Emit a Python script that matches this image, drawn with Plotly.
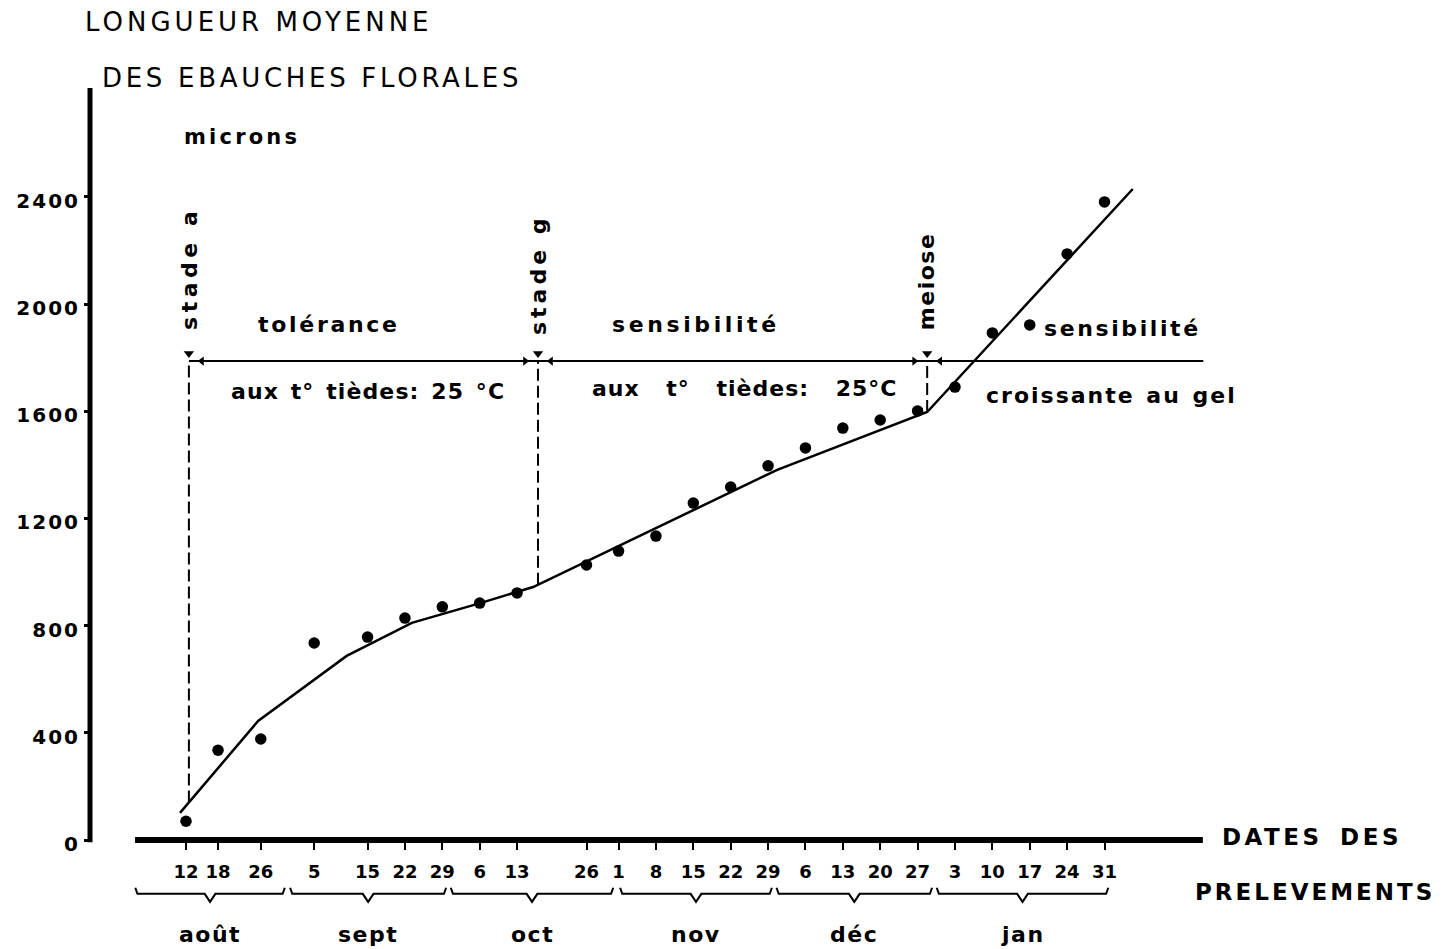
import numpy as np
import pandas as pd
import plotly.graph_objects as go

# ---- data -------------------------------------------------------------
sample_dates = [
    "1966-08-12", "1966-08-18", "1966-08-26",
    "1966-09-05", "1966-09-15", "1966-09-22", "1966-09-29",
    "1966-10-06", "1966-10-13", "1966-10-26",
    "1966-11-01", "1966-11-08", "1966-11-15", "1966-11-22", "1966-11-29",
    "1966-12-06", "1966-12-13", "1966-12-20", "1966-12-27",
    "1967-01-03", "1967-01-10", "1967-01-17", "1967-01-24", "1967-01-31",
]
tick_labels = ["12", "18", "26", "5", "15", "22", "29", "6", "13", "26",
               "1", "8", "15", "22", "29", "6", "13", "20", "27",
               "3", "10", "17", "24", "31"]
mean_length = [70, 335, 377, 735, 757, 828, 870, 884, 922, 1026,
               1078, 1134, 1257, 1317, 1396, 1463, 1537, 1567, 1601,
               1690, 1892, 1922, 2187, 2381]

# broken-line growth curve
curve_dates = ["1966-08-10 21:00", "1966-08-25 12:00", "1966-09-11 02:00",
               "1966-09-23 07:00", "1966-10-06 02:00", "1966-10-16 00:00",
               "1966-11-30 17:00", "1966-12-28 19:00", "1967-02-05 07:00"]
curve_values = [101, 444, 687, 810, 884, 944, 1381, 1597, 2429]

# developmental stages
stage_names = ["stade a", "stade g", "meiose"]
stage_dates = ["1966-08-12 13:00", "1966-10-16 22:00", "1966-12-28 19:00"]
period_line_value = 1787
period_line_end = "1967-02-18 12:00"

# months under the date axis
month_labels = ["août", "sept", "oct", "nov", "déc", "jan"]
month_start = ["1966-08-02 12:00", "1966-08-31 12:00", "1966-09-30 14:00",
               "1966-11-01 07:00", "1966-11-30 14:00", "1966-12-30 14:00"]
month_end = ["1966-08-30 12:00", "1966-09-29 17:00", "1966-10-31 00:00",
             "1966-11-29 17:00", "1966-12-29 17:00", "1967-01-31 17:00"]

y_ticks = [0, 400, 800, 1200, 1600, 2000, 2400]
y_tick_labels = ["0", "400", "800", "1200", "1600", "2000", "2400"]

# ---- layout helpers ---------------------------------------------------
W, H = 1443, 949
X_RANGE = ["1966-07-08 04:00", "1967-04-04 09:20"]
Y_RANGE = [-406.7, 3134.3]
X_AXIS_START, X_AXIS_END = "1966-08-02 11:00", "1967-02-18 10:00"
Y_AXIS_POS = 90 / W
Y_AXIS_TOP = 2806
FONT = "DejaVu Sans"


def px(xp):
    return xp / W


def py(yp):
    return 1 - yp / H


def spaced(text, ls, ws=None):
    style = f"letter-spacing:{ls}px"
    if ws is not None:
        style += f";word-spacing:{ws}px"
    return f'<span style="{style}">{text}</span>'


def ts(values):
    return pd.to_datetime(pd.Series(values))


def as_num(values):
    return ts(values).astype("int64").to_numpy().astype(float)


BLACK = "black"


def bold(size):
    return dict(family=FONT, size=size, color=BLACK, weight="bold")


fig = go.Figure()

# growth curve
fig.add_trace(go.Scatter(
    x=curve_dates, y=curve_values, mode="lines",
    line=dict(color=BLACK, width=2.5), hoverinfo="skip", showlegend=False,
))

# mean length of the floral primordia
fig.add_trace(go.Scatter(
    x=sample_dates, y=mean_length, mode="markers",
    marker=dict(color=BLACK, size=11.5), showlegend=False,
))

shapes = []
# axes lines
shapes.append(dict(type="line", xref="x", yref="y", x0=X_AXIS_START, x1=X_AXIS_END,
                   y0=0, y1=0, line=dict(color=BLACK, width=6)))
shapes.append(dict(type="line", xref="paper", yref="y", x0=Y_AXIS_POS, x1=Y_AXIS_POS,
                   y0=-8, y1=Y_AXIS_TOP, line=dict(color=BLACK, width=5)))

# horizontal line separating the periods
shapes.append(dict(type="line", xref="x", yref="y", x0=stage_dates[0], x1=period_line_end,
                   y0=period_line_value, y1=period_line_value,
                   line=dict(color=BLACK, width=2)))

# dashed stage markers, from the period line down to the curve
stage_on_curve = np.interp(as_num(stage_dates), as_num(curve_dates), curve_values)
for d, v in zip(stage_dates, stage_on_curve):
    shapes.append(dict(type="line", xref="x", yref="y", x0=d, x1=d,
                       y0=v, y1=period_line_value,
                       line=dict(color=BLACK, width=2, dash="12px,5px")))

# downward arrows on top of the stage markers
fig.add_trace(go.Scatter(
    x=stage_dates, y=[period_line_value + 28] * len(stage_dates), mode="markers",
    marker=dict(symbol="triangle-down", size=9, color=BLACK),
    hoverinfo="skip", showlegend=False,
))

# arrow heads bounding each period
stage_ts = ts(stage_dates)
off = pd.Timedelta(days=2.4)
left_heads = [stage_ts[0] + off, stage_ts[1] + off, stage_ts[2] + off]
right_heads = [stage_ts[1] - off, stage_ts[2] - off]
fig.add_trace(go.Scatter(
    x=left_heads, y=[period_line_value] * len(left_heads), mode="markers",
    marker=dict(symbol="triangle-left", size=8, color=BLACK),
    hoverinfo="skip", showlegend=False,
))
fig.add_trace(go.Scatter(
    x=right_heads, y=[period_line_value] * len(right_heads), mode="markers",
    marker=dict(symbol="triangle-right", size=8, color=BLACK),
    hoverinfo="skip", showlegend=False,
))

# month braces
Y_HOOK, Y_BRACE, Y_NOTCH, Y_MONTH = -178, -201, -231, -354
day = pd.Timedelta(days=1)
month_mid = []
for s, e in zip(ts(month_start), ts(month_end)):
    mid = s + (e - s) / 2
    month_mid.append(mid)
    xs = [s, s + 0.4 * day, mid - day, mid, mid + day, e - 0.4 * day, e]
    ys = [Y_HOOK, Y_BRACE, Y_BRACE, Y_NOTCH, Y_BRACE, Y_BRACE, Y_HOOK]
    fig.add_trace(go.Scatter(
        x=xs, y=ys, mode="lines", line=dict(color=BLACK, width=2),
        hoverinfo="skip", showlegend=False, cliponaxis=False,
    ))

annotations = []
for lab, mid in zip(month_labels, month_mid):
    annotations.append(dict(x=mid, y=Y_MONTH, xref="x", yref="y", text=spaced(lab, 1.5),
                            showarrow=False, font=bold(22), xanchor="center", yanchor="middle"))

# stage names, written vertically
stage_label_y = [268, 275, 281]
stage_label_ls = [4.5, 4, 1.5]
for name, d, yp, ls in zip(stage_names, stage_dates, stage_label_y, stage_label_ls):
    annotations.append(dict(x=d, y=py(yp), xref="x", yref="paper", text=spaced(name, ls),
                            textangle=-90, showarrow=False, font=bold(22),
                            xanchor="center", yanchor="middle"))

# period descriptions
texts = [
    ("tolérance", 329, 324, 2.7, None),
    ("sensibilité", 696, 324, 3.6, None),
    ("sensibilité", 1122, 328, 2.6, None),
    ("aux t° tièdes: 25 °C", 368, 391, 1.1, 3),
    ("aux t° tièdes: 25°C", 745, 388, 1, 18),
    ("croissante au gel", 1111, 395, 2, 2),
]
for t, xp, yp, ls, ws in texts:
    annotations.append(dict(x=px(xp), y=py(yp), xref="paper", yref="paper",
                            text=spaced(t, ls, ws), showarrow=False, font=bold(22),
                            xanchor="center", yanchor="middle"))

# axis titles
annotations += [
    dict(x=px(83), y=py(22), text=spaced("LONGUEUR MOYENNE", 4),
         font=dict(family=FONT, size=26, color=BLACK), xanchor="left"),
    dict(x=px(100), y=py(78), text=spaced("DES EBAUCHES FLORALES", 3.7),
         font=dict(family=FONT, size=26, color=BLACK), xanchor="left"),
    dict(x=px(182), y=py(137), text=spaced("microns", 3.2), font=bold(21), xanchor="left"),
    dict(x=px(1220), y=py(837), text=spaced("DATES DES", 3.5, 6), font=bold(23), xanchor="left"),
    dict(x=px(1193), y=py(892), text=spaced("PRELEVEMENTS", 3), font=bold(23), xanchor="left"),
]
for a in annotations[-5:]:
    a.update(xref="paper", yref="paper", showarrow=False, yanchor="middle")

fig.update_layout(
    width=W, height=H, autosize=False,
    margin=dict(l=0, r=0, t=0, b=0, pad=0),
    paper_bgcolor="white", plot_bgcolor="white",
    showlegend=False,
    shapes=shapes,
    annotations=annotations,
    xaxis=dict(
        type="date", range=X_RANGE, domain=[0, 1], anchor="free", position=py(840),
        tickmode="array", tickvals=sample_dates, ticktext=tick_labels,
        ticks="outside", ticklen=9, tickwidth=2, tickcolor=BLACK,
        tickfont=bold(18), ticklabelstandoff=6,
        showline=False, showgrid=False, zeroline=False,
    ),
    yaxis=dict(
        range=Y_RANGE, domain=[0, 1], anchor="free", position=Y_AXIS_POS,
        tickmode="array", tickvals=y_ticks,
        ticktext=[spaced(t, 2) for t in y_tick_labels],
        ticks="outside", ticklen=6, tickwidth=3, tickcolor=BLACK,
        tickfont=bold(20), ticklabelshift=4,
        showline=False, showgrid=False, zeroline=False,
    ),
)

fig.write_html("out.html", config={"displayModeBar": False})
